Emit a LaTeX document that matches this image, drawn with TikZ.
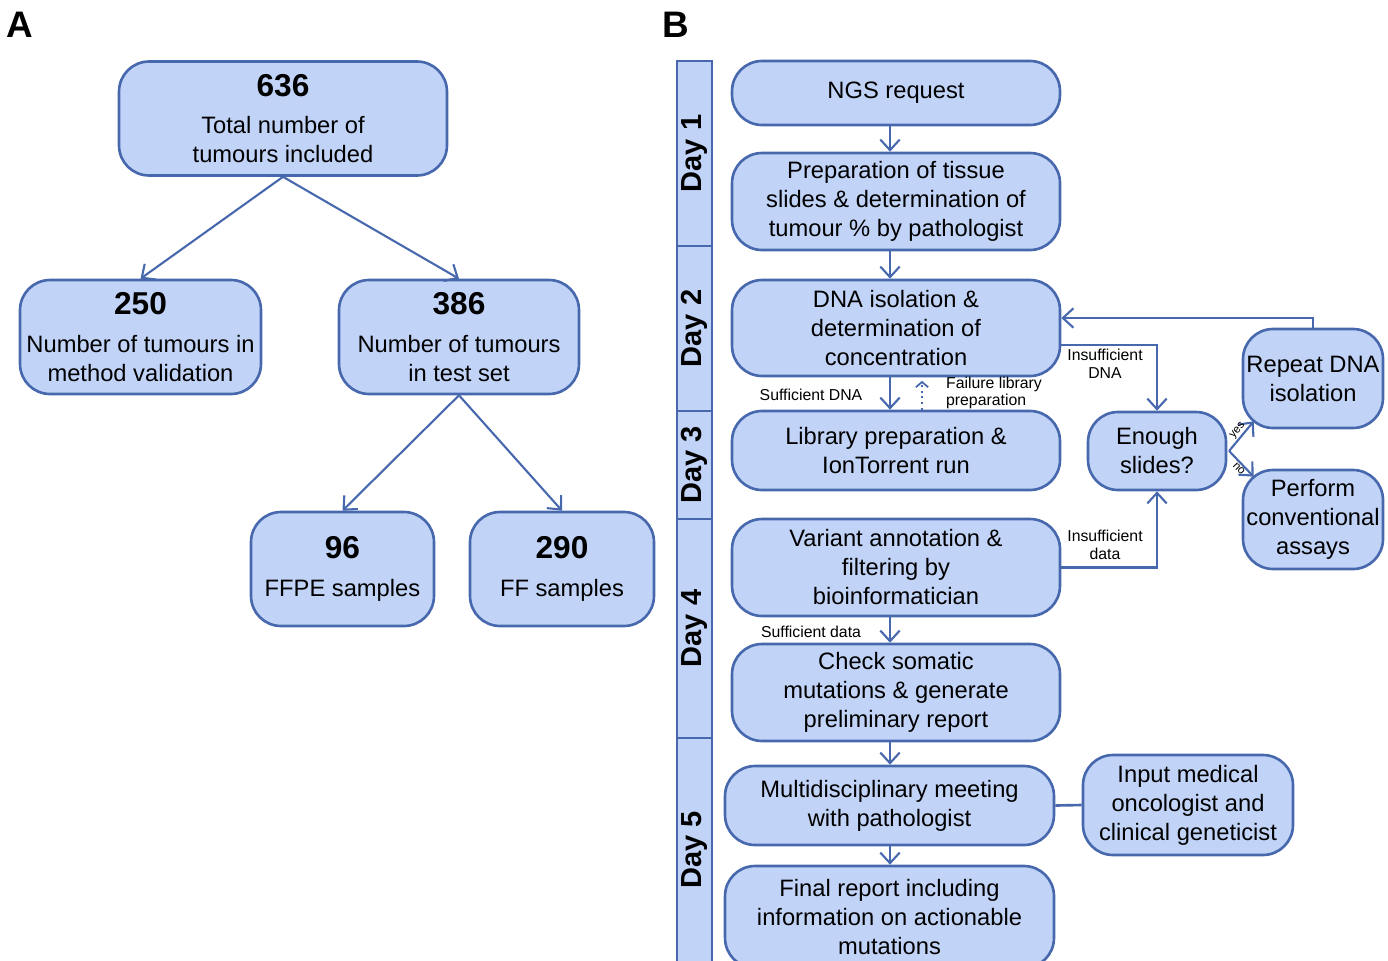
\documentclass[tikz,border=0pt]{standalone}
\usepackage{fontspec}
\setmainfont{Liberation Sans}
\usetikzlibrary{positioning}
\usetikzlibrary{arrows.meta,calc}
\definecolor{boxfill}{RGB}{193,211,247}
\definecolor{boxline}{RGB}{72,104,174}
\tikzstyle{flowbox}=[draw=boxline,fill=boxfill,line width=1.5pt,rounded corners=0.6cm,align=center,inner sep=0pt,font=\fontsize{13.5}{16.5}\selectfont]
\tikzstyle{daybox}=[draw=boxline,fill=boxfill,line width=1.5pt,rotate=90,minimum height=0.7cm,inner sep=0pt,font=\fontsize{16.5}{18}\selectfont\bfseries]
\tikzstyle{note}=[font=\fontsize{9}{10}\selectfont,align=center,inner sep=1pt]
\tikzstyle{tiny note}=[font=\fontsize{6.5}{7}\selectfont,inner sep=0.5pt]
\tikzstyle{link}=[draw=boxline,line width=1.2pt,-{Straight Barb[length=6pt,width=11pt]}]
\tikzstyle{panel}=[font=\fontsize{21}{24}\selectfont\bfseries]
\newcommand{\cnt}[1]{{\fontsize{18}{20}\selectfont\bfseries #1}\\[5pt]}

\begin{document}
\begin{tikzpicture}[x=0.02cm,y=-0.02cm]
\useasboundingbox (0,0) rectangle (1388,960);

%A
\node[panel] (labelA) at (20,25) {A};
  \foreach \pos/\name/\w/\label in {{(283,118.5)/total/6.56/{\cnt{636}Total number of\\tumours included}},
      {(140.5,337)/valid/4.82/{\cnt{250}Number of tumours in\\method validation}},
      {(459,337)/test/4.8/{\cnt{386}Number of tumours\\in test set}},
      {(342.5,569)/ffpe/3.66/{\cnt{96}FFPE samples}},
      {(562,569)/ff/3.68/{\cnt{290}FF samples}}}
    \node[flowbox,minimum width=\w cm,minimum height=2.28cm] (\name) at \pos {\label};

  \foreach \source/\dest in {total/valid, total/test, test/ffpe, test/ff}
    \draw[link] (\source.south) -- (\dest.north);

%B
\node[panel] (labelB) at (676,25) {B};
  \foreach \y/\len/\name/\label in {153.5/3.7/day1/Day 1, 328.5/3.3/day2/Day 2, 465/2.16/day3/Day 3,
      628.5/4.38/day4/Day 4, 850/4.48/day5/Day 5}
    \node[daybox,minimum width=\len cm] (\name) at (694.5,\y) {\label};

  \foreach \pos/\name/\w/\h/\label in {{(896,93)/ngs/6.56/1.28/{NGS request}},
      {(896,201.5)/prep/6.56/1.94/{Preparation of tissue\\slides \& determination of\\tumour \% by pathologist}},
      {(896,328)/dna/6.56/1.92/{DNA isolation \&\\determination of\\concentration}},
      {(896,450.5)/lib/6.56/1.58/{Library preparation \&\\IonTorrent run}},
      {(896,567.5)/variant/6.56/1.94/{Variant annotation \&\\filtering by\\bioinformatician}},
      {(896,692.5)/check/6.56/1.94/{Check somatic\\mutations \& generate\\preliminary report}},
      {(889.5,805.5)/mdm/6.58/1.58/{Multidisciplinary meeting\\with pathologist}},
      {(889.5,917)/final/6.58/2.04/{Final report including\\information on actionable\\mutations}},
      {(1157,451)/enough/2.76/1.56/{Enough\\slides?}},
      {(1313,378.5)/repeat/2.8/1.98/{Repeat DNA\\isolation}},
      {(1313,519.5)/perform/2.8/1.98/{Perform\\conventional\\assays}},
      {(1188,805)/input/4.2/2.0/{Input medical\\oncologist and\\clinical geneticist}}}
    \node[flowbox,minimum width=\w cm,minimum height=\h cm] (\name) at \pos {\label};

\coordinate (spine) at (890,0);
  \foreach \source/\dest in {ngs/prep, prep/dna, dna/lib, variant/check, check/mdm, mdm/final}
    \draw[link] (\source.south -| spine) -- (\dest.north -| spine);

\coordinate (fail) at (922,0);
\draw[link,dotted,line width=1pt,-{Straight Barb[length=3pt,width=7pt]}] (lib.north -| fail) -- ([yshift=-2pt]dna.south -| fail);

\draw[link] ([yshift=-0.34cm]dna.east) -| (enough.north);
\draw[link] (variant.east) -| (enough.south);
\draw[link] (repeat.north) |- ([yshift=0.2cm]dna.east);
\draw[link] ([xshift=1pt]enough.east) -- node[tiny note,sloped,above,pos=0.55] {yes} ([shift={(0.24cm,0.16cm)}]repeat.south west);
\draw[link] ([xshift=1pt]enough.east) -- node[tiny note,sloped,below,pos=0.55] {no} ([shift={(0.24cm,-0.16cm)}]perform.north west);
\draw[draw=boxline,line width=1.5pt] (mdm.east) -- (input.west);

\node[note] (sufdna) at (811,395) {Sufficient DNA};
\node[note] (sufdata) at (811,632) {Sufficient data};
\node[note] (insdna) at (1105,364) {Insufficient\\DNA};
\node[note] (insdata) at (1105,545) {Insufficient\\data};
\node[note,anchor=west,font=\fontsize{9}{6.3}\selectfont,align=left] (faillib) at (944,393) {Failure library\\preparation};

\end{tikzpicture}
\end{document}
